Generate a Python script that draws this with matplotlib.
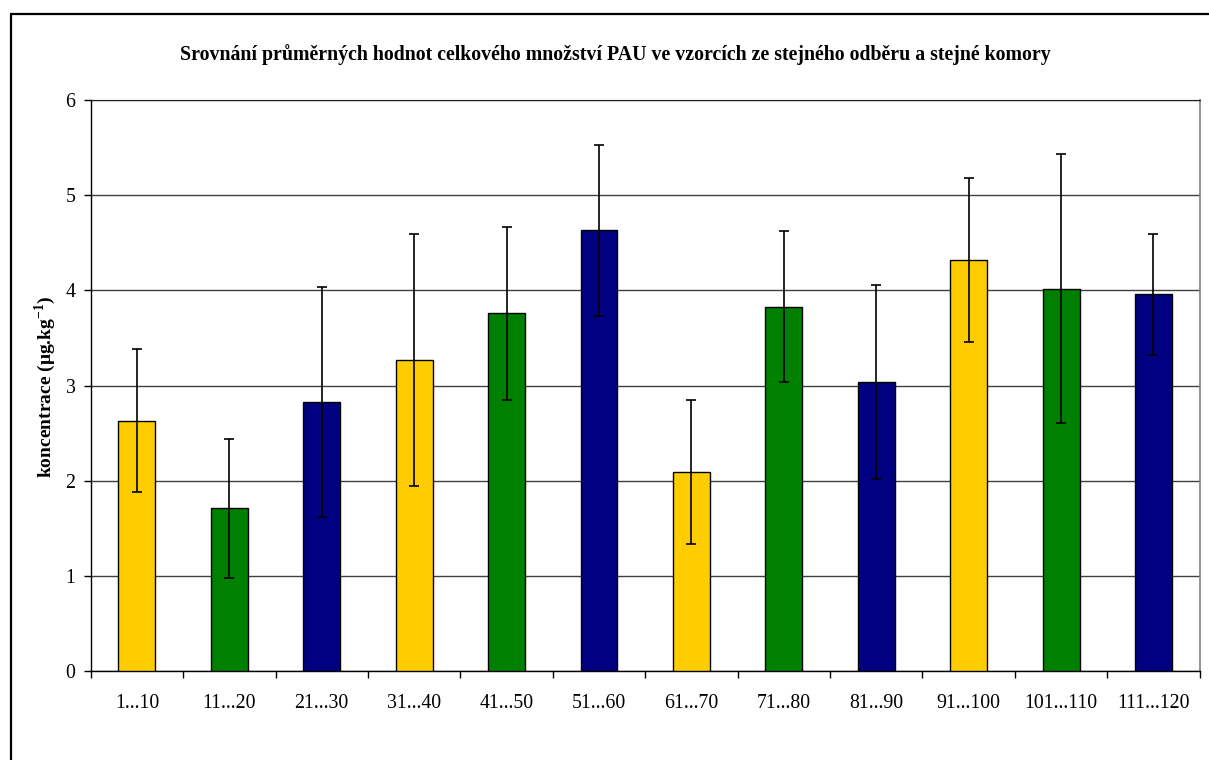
import numpy as np
import matplotlib
matplotlib.use("Agg")
import matplotlib.pyplot as plt
from matplotlib.patches import Rectangle

# -----------------------------------------------------------------------------
# Data
# -----------------------------------------------------------------------------
categories = ["1...10", "11...20", "21...30", "31...40", "41...50", "51...60",
              "61...70", "71...80", "81...90", "91...100", "101...110", "111...120"]
means  = [2.63, 1.71, 2.83, 3.27, 3.76, 4.63, 2.09, 3.83, 3.04, 4.32, 4.02, 3.96]
errors = [0.75, 0.73, 1.21, 1.32, 0.91, 0.90, 0.755, 0.79, 1.02, 0.86, 1.41, 0.635]
bar_colors = ["#FFCC00", "#008000", "#000080"] * 4

title = "Srovnání průměrných hodnot celkového množství PAU ve vzorcích ze stejného odběru a stejné komory"
ylabel = r"koncentrace ($\mathbf{\mu}$g.kg$^{\mathbf{-1}}$)"

plt.rcParams["font.family"] = ["Liberation Serif", "DejaVu Serif"]
plt.rcParams["mathtext.fontset"] = "custom"
plt.rcParams["mathtext.rm"] = "Liberation Serif"
plt.rcParams["mathtext.bf"] = "Liberation Serif:bold"

W, H = 1209, 760
fig = plt.figure(figsize=(W / 100, H / 100), dpi=100)

# outer chart frame (cut by the image at right/bottom)
fig.patches.append(Rectangle((10.7 / W, -0.05), 1.2, 1 - 14.3 / H + 0.05,
                             transform=fig.transFigure, fill=False,
                             edgecolor="black", linewidth=1.6, zorder=0))

ax = fig.add_axes([90.7 / W, 1 - 671.3 / H, (1199.7 - 90.7) / W, (671.3 - 100) / H])

x = np.arange(len(categories))
ax.bar(x, means, width=0.4, color=bar_colors, edgecolor="black", linewidth=1.0, zorder=3)
ax.errorbar(x, means, yerr=errors, fmt="none", ecolor="black", elinewidth=1.2,
            capsize=3.8, capthick=1.2, zorder=4)

ax.set_xlim(-0.5, len(categories) - 0.5)
ax.set_ylim(0, 6)
ax.set_yticks(range(0, 7))
ax.yaxis.grid(True, color="#404040", linewidth=1.0, zorder=0)
ax.set_axisbelow(True)

ax.set_xticks(x)
ax.set_xticklabels(categories, fontsize=14.3)
ax.tick_params(axis="x", which="major", length=0, pad=16.5)
ax.set_xticks(np.arange(-0.5, len(categories)), minor=True)
ax.tick_params(axis="x", which="minor", length=5, width=1, direction="out")
ax.tick_params(axis="y", length=5, width=1, direction="out", labelsize=14.3, pad=6)

for side in ["left", "bottom"]:
    ax.spines[side].set_color("black")
    ax.spines[side].set_linewidth(1.0)
ax.spines["top"].set_color("#202020")
ax.spines["right"].set_color("#808080")
ax.spines["right"].set_linewidth(1.2)

fig.text(45 / W, 1 - 387 / H, ylabel, rotation=90, ha="center", va="center",
         fontsize=14, fontweight="bold")

fig.text(615.5 / W, 1 - 55 / H, title, ha="center", va="center",
         fontsize=14.3, fontweight="bold")

fig.savefig("out.png", dpi=100)
